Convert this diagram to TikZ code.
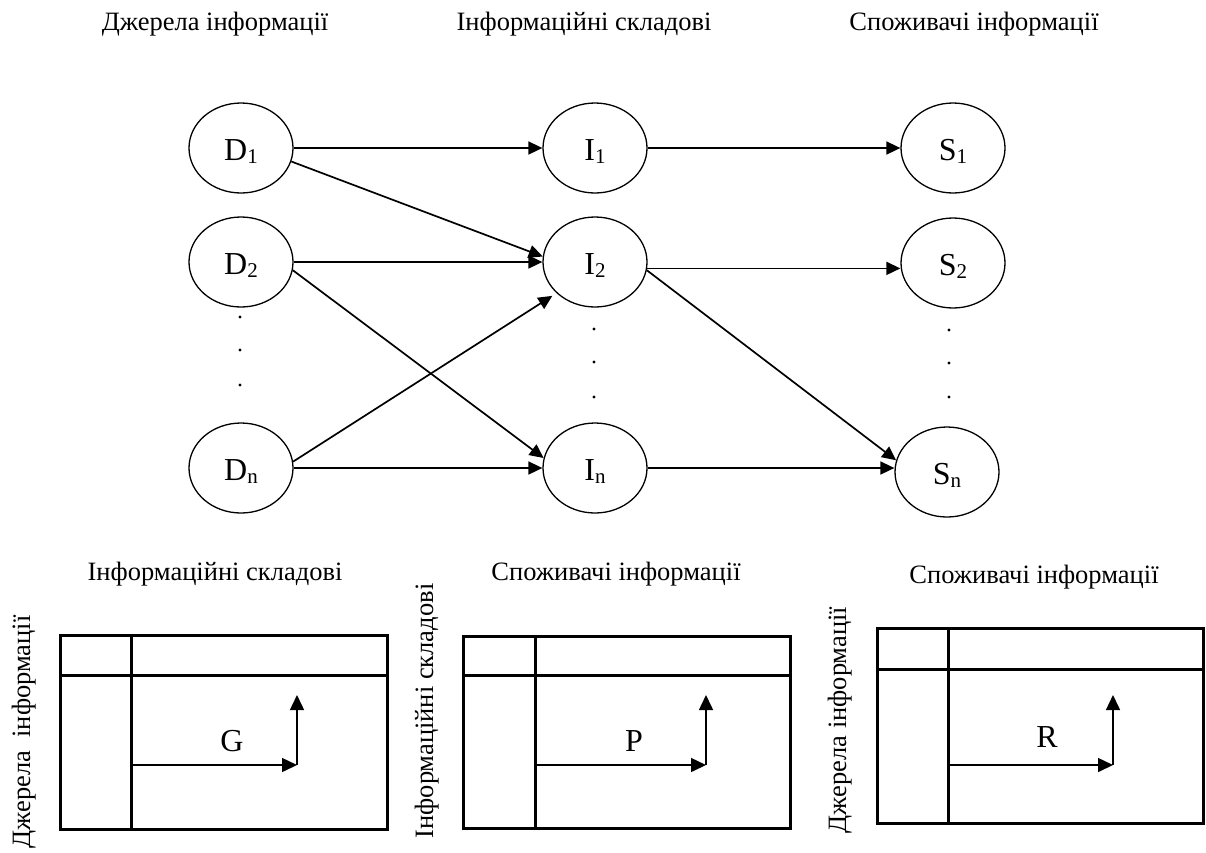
\documentclass[tikz,border=0pt]{standalone}
\usepackage{fontspec}
\setmainfont{Liberation Serif}
\usetikzlibrary{arrows.meta,shapes.geometric}
\newcommand\lbl[2]{#1\raisebox{-3pt}{\fontsize{21}{21}\selectfont #2}}
\begin{document}
\begin{tikzpicture}[x=1pt,y=-1pt,
  every node/.style={font=\fontsize{26.5}{30}\selectfont},
  vert/.style={draw, ellipse, line width=1.3pt, minimum width=104pt, minimum height=90pt, inner sep=0pt, text height=25pt, text depth=0pt, font=\fontsize{32}{36}\selectfont},
  big/.style={font=\fontsize{32}{36}\selectfont, inner sep=0pt},
  conn/.style={line width=1.7pt, -{Triangle[length=14pt,width=13pt]}},
  tbl/.style={line width=3pt},
  tarr/.style={line width=1.5pt, -{Triangle[length=15pt,width=14pt]}},
  ttl/.style={anchor=base, inner sep=0pt},
  rtl/.style={anchor=base, rotate=90, inner sep=0pt}
]
\useasboundingbox (0,0) rectangle (1206,852);

% titles
\node[ttl] (t1) at (215,30) {Джерела інформації};
\node[ttl] (t2) at (584,30) {Інформаційні складові};
\node[ttl] (t3) at (974,30) {Споживачі інформації};

% vertices
\node[vert] (D1) at (241,148) {\lbl{D}{1}};
\node[vert] (D2) at (241,262) {\lbl{D}{2}};
\node[vert] (Dn) at (241,468) {\lbl{D}{n}};
\node[vert] (I1) at (595,148) {\lbl{I}{1}};
\node[vert] (I2) at (595,262) {\lbl{I}{2}};
\node[vert] (In) at (595,468) {\lbl{I}{n}};
\node[vert] (S1) at (953,148) {\lbl{S}{1}};
\node[vert] (S2) at (953,263) {\lbl{S}{2}};
\node[vert] (Sn) at (947,472) {\lbl{S}{n}};

% dots
\foreach \yy in {317,350,385} \fill (240,\yy) circle (1.7);
\foreach \yy in {329,362,397} \fill (594,\yy) circle (1.7);
\foreach \yy in {330,363,397} \fill (949,\yy) circle (1.7);

% connectors
\draw[conn] (D1.east) -- (I1.west);
\draw[conn] (D1.-15) -- (I2.174);
\draw[conn] (D2.east) -- (I2.west);
\draw[conn] (D2.-9) -- (In.169);
\draw[conn, shorten >=5pt] (Dn.7) -- (I2.219);
\draw[conn] (Dn.east) -- (In.west);
\draw[conn] (I1.east) -- (S1.west);
\draw[conn] (I2.-7) -- (I2.-7 -| S2.west);
\draw[conn] (I2.-9) -- (Sn.167);
\draw[conn] (In.east) -- (In.east -| Sn.west);

% bottom titles
\node[ttl] (b1) at (215,580) {Інформаційні складові};
\node[ttl] (b2) at (616,580) {Споживачі інформації};
\node[ttl] (b3) at (1034,583) {Споживачі інформації};

% rotated titles
\node[rtl] (r1) at (30,732) {Джерела\ \ інформації};
\node[rtl] (r2) at (433,711) {Інформаційні складові};
\node[rtl] (r3) at (846,720) {Джерела інформації};

% table 1
\draw[tbl] (60,635) rectangle (387,829);
\draw[tbl] (60,675) -- (387,675);
\draw[tbl] (131,635) -- (131,829);
\coordinate (g0) at (131,765);
\coordinate (g1) at (297,765);
\coordinate (g2) at (297,695);
\draw[tarr] (g0) -- (g1);
\draw[tarr] (g1) -- (g2);
\node[big] (G) at (232,741) {G};

% table 2
\draw[tbl] (463,636) rectangle (790,828);
\draw[tbl] (463,675) -- (790,675);
\draw[tbl] (535,636) -- (535,828);
\coordinate (p0) at (537,765);
\coordinate (p1) at (706,765);
\coordinate (p2) at (706,695);
\draw[tarr] (p0) -- (p1);
\draw[tarr] (p1) -- (p2);
\node[big] (P) at (634,741) {P};

% table 3
\draw[tbl] (877,628) rectangle (1203,823);
\draw[tbl] (877,669) -- (1203,669);
\draw[tbl] (948,628) -- (948,823);
\coordinate (q0) at (948,765);
\coordinate (q1) at (1113,765);
\coordinate (q2) at (1113,695);
\draw[tarr] (q0) -- (q1);
\draw[tarr] (q1) -- (q2);
\node[big] (R) at (1047,737) {R};
\end{tikzpicture}
\end{document}
